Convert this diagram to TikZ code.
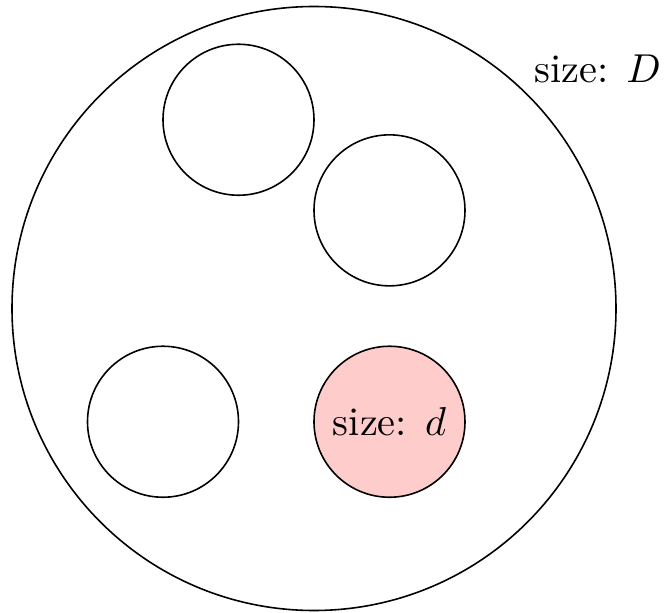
\documentclass[tikz,border=0pt]{standalone}
\usepackage{amsmath,amssymb}
\usepackage{tikz}
\newcommand{\sizelabel}[1]{\scalebox{1.52}{size: $#1$}}
\tikzset{ball/.style={circle, draw, semithick, inner sep=0pt, minimum size=2cm}}

\begin{document}
\begin{tikzpicture}
            \useasboundingbox (-4.159,-4.02) rectangle (4.702,4.086);
            % the big set and its size
            \node[ball, minimum size=8cm] (big) at (0,0) {};
            \node[anchor=base west, inner sep=0pt] (bigsize) at (2.91,2.99) {\sizelabel{D}};

            % the small sets inside
            \node[ball] (ballA) at (-1,2.5) {};
            \node[ball] (ballB) at (1,1.3) {};
            \node[ball] (ballC) at (-2,-1.5) {};
            \node[ball, fill=red!20] (ballD) at (1,-1.5) {\sizelabel{d}};
        \end{tikzpicture}
\end{document}
